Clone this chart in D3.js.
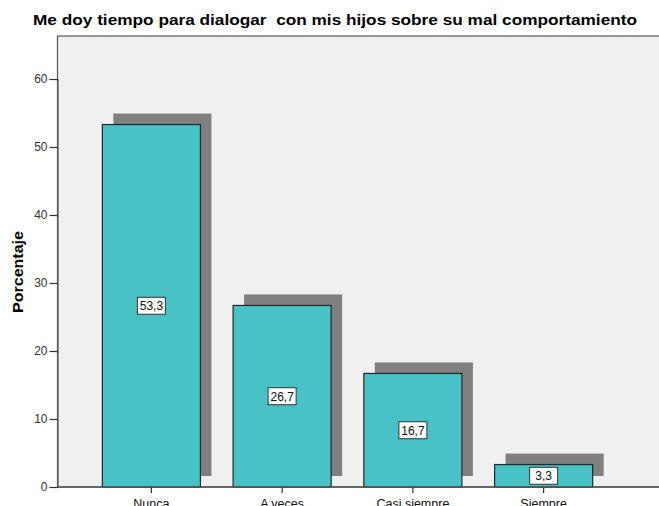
<!DOCTYPE html>
<html>
<head>
<meta charset="utf-8">
<script src="https://cdn.jsdelivr.net/npm/d3@7"></script>
<style>
  body { margin: 0; background: #fff; }
  svg { display: block; font-family: "Liberation Sans", Arial, sans-serif; }
</style>
</head>
<body>
<svg id="chart" width="659" height="506"></svg>
<script>
// data
var categories = ["Nunca", "A veces", "Casi siempre", "Siempre"];
var percents = [53.3, 26.7, 16.7, 3.3];
var yTicks = [0, 10, 20, 30, 40, 50, 60];

var svg = d3.select("#chart");
var plotLeft = 57.5, plotTop = 36, plotBottom = 487, plotRight = 662;

var x = d3.scaleBand().domain(categories).range([86, 609]).paddingInner(0.25).paddingOuter(0.125);
var y = d3.scaleLinear().domain([0, 60]).range([plotBottom, 79]);

// title
svg.append("text")
  .attr("x", 33).attr("y", 25)
  .attr("font-weight", "bold")
  .attr("font-size", 15.5)
  .attr("fill", "#000")
  .attr("textLength", 604).attr("lengthAdjust", "spacingAndGlyphs")
  .style("white-space", "pre")
  .text("Me doy tiempo para dialogar  con mis hijos sobre su mal comportamiento");

// plot background
svg.append("rect")
  .attr("x", plotLeft).attr("y", plotTop)
  .attr("width", plotRight - plotLeft).attr("height", plotBottom - plotTop)
  .attr("fill", "#f0f0f0")
  .attr("stroke", "#555").attr("stroke-width", 1.2);

var off = 11;
// shadows
svg.selectAll(".shadow").data(percents).enter().append("rect")
  .attr("class", "shadow")
  .attr("x", function(d, i) { return x(categories[i]) + off; })
  .attr("y", function(d) { return y(d) - off; })
  .attr("width", x.bandwidth())
  .attr("height", function(d) { return plotBottom - y(d); })
  .attr("fill", "#808080");

// bars
svg.selectAll(".bar").data(percents).enter().append("rect")
  .attr("class", "bar")
  .attr("x", function(d, i) { return x(categories[i]); })
  .attr("y", function(d) { return y(d); })
  .attr("width", x.bandwidth())
  .attr("height", function(d) { return plotBottom - y(d); })
  .attr("fill", "#48c2c5")
  .attr("stroke", "#1e2a2a").attr("stroke-width", 1.2);

// axes
var yAxis = svg.append("g")
  .attr("transform", "translate(" + plotLeft + ",0)")
  .call(d3.axisLeft(y).tickValues(yTicks).tickSize(8).tickPadding(2));
yAxis.select(".domain").attr("stroke", "#555").attr("stroke-width", 1.2);
yAxis.selectAll(".tick line").attr("stroke", "#333").attr("stroke-width", 1.2);
yAxis.selectAll(".tick text").attr("font-size", 12).attr("fill", "#333")
  .attr("font-family", "'Liberation Sans', Arial, sans-serif");

var xAxis = svg.append("g")
  .attr("transform", "translate(0," + plotBottom + ")")
  .call(d3.axisBottom(x).tickSize(6).tickPadding(6));
xAxis.select(".domain").remove();
xAxis.append("line").attr("x1", plotLeft).attr("x2", plotRight)
  .attr("stroke", "#555").attr("stroke-width", 1.5);
xAxis.selectAll(".tick line").attr("stroke", "#333").attr("stroke-width", 1.2);
xAxis.selectAll(".tick text").attr("font-size", 12.5).attr("fill", "#111")
  .attr("font-family", "'Liberation Sans', Arial, sans-serif");

// value labels
var labels = svg.selectAll(".lab").data(percents).enter().append("g")
  .attr("class", "lab")
  .attr("transform", function(d, i) {
    return "translate(" + (x(categories[i]) + x.bandwidth() / 2) + "," + y(d / 2) + ")";
  });
labels.append("rect")
  .attr("x", -14).attr("y", -8.5).attr("width", 28).attr("height", 17)
  .attr("fill", "#fff").attr("stroke", "#333").attr("stroke-width", 1);
labels.append("text")
  .attr("text-anchor", "middle").attr("dy", "0.36em")
  .attr("font-size", 12).attr("fill", "#111")
  .text(function(d) { return d3.format(".1f")(d).replace(".", ","); });

// y label
svg.append("text")
  .attr("transform", "translate(23,272) rotate(-90)")
  .attr("x", -41)
  .attr("font-weight", "bold").attr("font-size", 14)
  .attr("textLength", 82).attr("lengthAdjust", "spacingAndGlyphs")
  .text("Porcentaje");
</script>
</body>
</html>
